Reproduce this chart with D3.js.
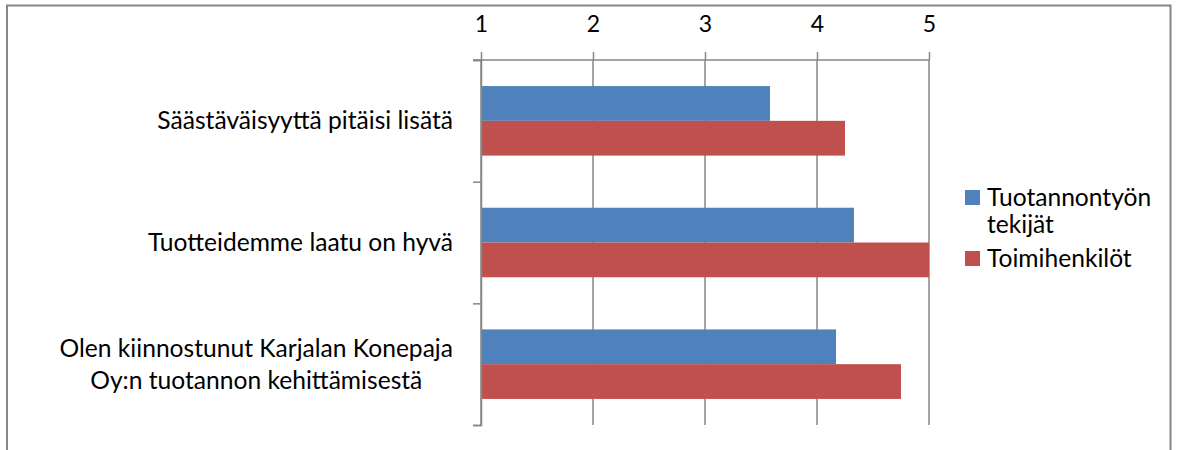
<!DOCTYPE html>
<html>
<head>
<meta charset="utf-8">
<script src="https://cdn.jsdelivr.net/npm/d3@7"></script>
<style>
  body { margin: 0; background: #fff; }
  text { font-family: Lato, "Open Sans", sans-serif; fill: #000; }
</style>
</head>
<body>
<svg id="chart" width="1177" height="450"></svg>
<script>
// data
const categories = [
  ["Säästäväisyyttä pitäisi lisätä"],
  ["Tuotteidemme laatu on hyvä"],
  ["Olen kiinnostunut Karjalan Konepaja", "Oy:n tuotannon kehittämisestä"]
];
const seriesNames = ["Tuotannontyön tekijät", "Toimihenkilöt"];
const legendLines = [["Tuotannontyön", "tekijät"], ["Toimihenkilöt"]];
const tuotannontyonTekijat = [3.58, 4.33, 4.17];
const toimihenkilot = [4.25, 5.0, 4.75];
const tickValues = [1, 2, 3, 4, 5];
const colors = ["#4f81bd", "#c0504d"];

const svg = d3.select("#chart");
const gridColor = "#868686";
const fontSize = 24.6;

// outer frame (bottom edge is cut off in the original)
svg.append("path")
  .attr("d", "M7,452 V5.5 H1170.5 V452")
  .attr("fill", "none")
  .attr("stroke", gridColor)
  .attr("stroke-width", 2);

const plotTop = 60, plotBottom = 425;
const x = d3.scaleLinear().domain([1, 5]).range([481, 929]);
const yIdx = d3.scaleLinear().domain([0, 3]).range([plotTop, plotBottom]);
const y = d3.scaleBand().domain(d3.range(3)).range([plotTop, plotBottom]).paddingInner(0);
// gap width 150% -> two bars take 2/3.5 of the band
const groupW = y.bandwidth() * 2 / 3.5;
const ySub = d3.scaleBand().domain([0, 1]).range([0, groupW]);

// vertical gridlines
svg.append("g").selectAll("line")
  .data(tickValues)
  .join("line")
  .attr("x1", d => x(d)).attr("x2", d => x(d))
  .attr("y1", plotTop).attr("y2", plotBottom)
  .attr("stroke", gridColor).attr("stroke-width", 1.5);

// bars
const series = [tuotannontyonTekijat, toimihenkilot];
series.forEach((vals, s) => {
  svg.append("g").selectAll("rect")
    .data(vals)
    .join("rect")
    .attr("x", x(1))
    .attr("y", (d, i) => y(i) + (y.bandwidth() - groupW) / 2 + ySub(s))
    .attr("width", d => x(d) - x(1))
    .attr("height", ySub.bandwidth())
    .attr("fill", colors[s]);
});

// top axis
const xAxis = svg.append("g")
  .attr("transform", `translate(0,${plotTop})`)
  .call(d3.axisTop(x).tickValues(tickValues).tickSizeInner(8).tickSizeOuter(0).tickPadding(20).tickFormat(d3.format("d")));
xAxis.select(".domain").attr("d", `M473,0 H${x(5)}`);
xAxis.selectAll("line, .domain").attr("stroke", gridColor).attr("stroke-width", 1.5);
xAxis.selectAll("text").attr("font-size", 23).attr("font-family", "Lato, sans-serif").attr("fill", "#000");

// left axis with ticks on category boundaries
const yAxis = svg.append("g")
  .attr("transform", `translate(${x(1)},0)`)
  .call(d3.axisLeft(yIdx).tickValues([0, 1, 2, 3]).tickSize(8).tickFormat(""));
yAxis.selectAll("line, .domain").attr("stroke", gridColor).attr("stroke-width", 1.5);

// category labels
const lineH = 32;
categories.forEach((lines, i) => {
  const cy = y(i) + y.bandwidth() / 2;
  const t = svg.append("text")
    .attr("font-size", fontSize)
    .attr("text-anchor", "middle");
  lines.forEach((ln, k) => {
    t.append("tspan").text(ln)
      .attr("y", cy + (k - (lines.length - 1) / 2) * lineH)
      .attr("dy", "0.35em");
  });
  // right-align the block, center lines within it
  const w = d3.max(t.selectAll("tspan").nodes(), n => n.getComputedTextLength());
  t.selectAll("tspan").attr("x", 453 - w / 2);
});

// legend
const legend = svg.append("g");
const legendY = [197, 258];
seriesNames.forEach((name, s) => {
  legend.append("rect")
    .attr("x", 965).attr("y", legendY[s] - 7)
    .attr("width", 15).attr("height", 15)
    .attr("fill", colors[s]);
  const t = legend.append("text").attr("font-size", fontSize);
  legendLines[s].forEach((ln, k) => {
    t.append("tspan").text(ln)
      .attr("x", 987)
      .attr("y", legendY[s] + k * 27)
      .attr("dy", "0.35em");
  });
});
</script>
</body>
</html>
